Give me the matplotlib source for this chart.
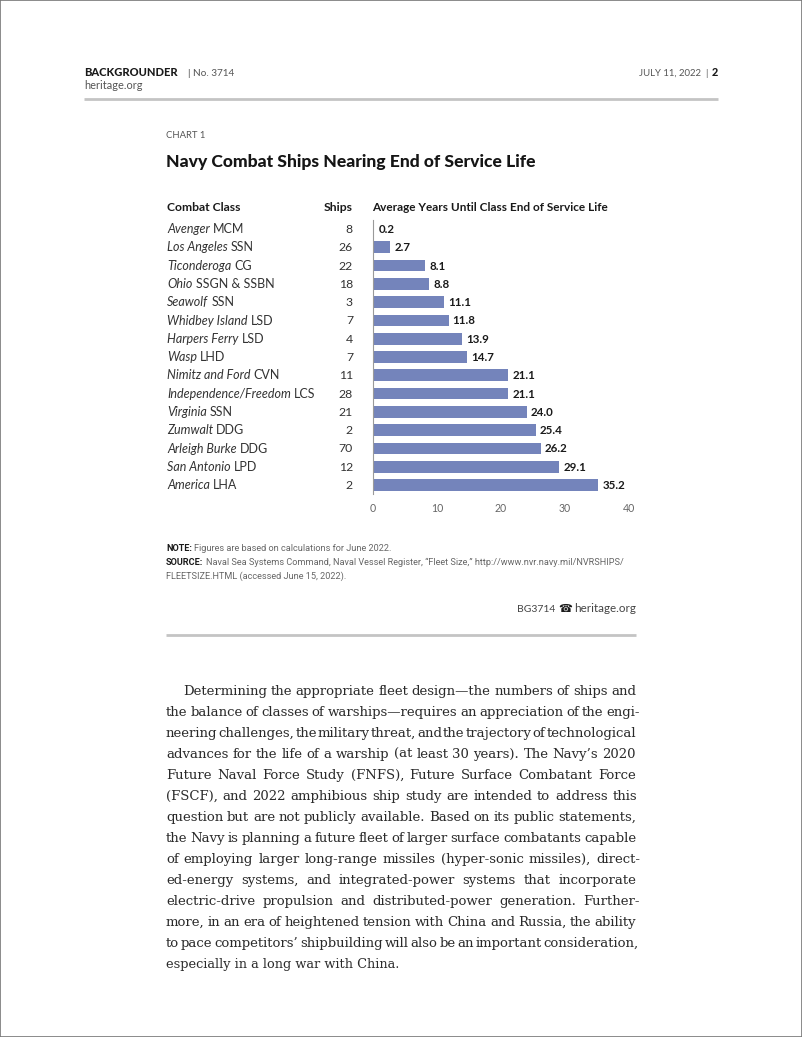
import matplotlib
matplotlib.use("Agg")
import matplotlib.pyplot as plt
from matplotlib.lines import Line2D
from matplotlib.patches import Rectangle

W, H = 802, 1037

class_italic = ["Avenger", "Los Angeles", "Ticonderoga", "Ohio", "Seawolf", "Whidbey Island",
                "Harpers Ferry", "Wasp", "Nimitz and Ford", "Independence/Freedom", "Virginia",
                "Zumwalt", "Arleigh Burke", "San Antonio", "America"]
class_roman = ["MCM", "SSN", "CG", "SSGN & SSBN", "SSN", "LSD", "LSD", "LHD", "CVN", "LCS",
               "SSN", "DDG", "DDG", "LPD", "LHA"]
ships = [8, 26, 22, 18, 3, 7, 4, 7, 11, 28, 21, 2, 70, 12, 2]
years = [0.2, 2.7, 8.1, 8.8, 11.1, 11.8, 13.9, 14.7, 21.1, 21.1, 24.0, 25.4, 26.2, 29.1, 35.2]
x_ticks = [0, 10, 20, 30, 40]

body_lines = [
    ("Determining the appropriate fleet design—the numbers of ships and", 183, 636),
    ("the balance of classes of warships—requires an appreciation of the engi-", 166, 640),
    ("neering challenges, the military threat, and the trajectory of technological", 166, 636),
    ("advances for the life of a warship (at least 30 years). The Navy’s 2020", 166, 636),
    ("Future Naval Force Study (FNFS), Future Surface Combatant Force", 166, 636),
    ("(FSCF), and 2022 amphibious ship study are intended to address this", 166, 637),
    ("question but are not publicly available. Based on its public statements,", 166, 636),
    ("the Navy is planning a future fleet of larger surface combatants capable", 166, 636),
    ("of employing larger long-range missiles (hyper-sonic missiles), direct-", 166, 640),
    ("ed-energy systems, and integrated-power systems that incorporate", 166, 636),
    ("electric-drive propulsion and distributed-power generation. Further-", 166, 640),
    ("more, in an era of heightened tension with China and Russia, the ability", 166, 636),
    ("to pace competitors’ shipbuilding will also be an important consideration,", 166, 639),
    ("especially in a long war with China.", 166, None),
]

SANS = "Lato"
DARK = "#1a1a1a"
GREY = "#555555"
BAR = "#7484bb"

fig = plt.figure(figsize=(W / 100, H / 100), dpi=100, facecolor="white")
renderer = fig.canvas.get_renderer()

def fx(x): return x / W
def fy(y): return 1 - y / H

def put(x, y, s, **kw):
    kw.setdefault("family", SANS)
    kw.setdefault("color", DARK)
    size = kw.get("fontsize", 8)
    # y is the visual mid-height of capitals: sit the text on a fixed baseline
    return fig.text(fx(x), fy(y - 0.7 + 0.36 * size * 100 / 72), s, va="baseline", **kw)

def width(t):
    return t.get_window_extent(renderer).width

def hline(y, x0, x1, lw, color):
    fig.add_artist(Line2D([fx(x0), fx(x1)], [fy(y), fy(y)], lw=lw, color=color,
                          transform=fig.transFigure, solid_capstyle="butt"))

def runs(x, y, parts, size, color=DARK):
    for s, opts in parts:
        t = put(x, y, s, fontsize=size, color=color, **opts)
        x += width(t) + size * 0.36

# page border
fig.add_artist(Rectangle((0, 0), 1, 1, transform=fig.transFigure, fill=False,
                         ec="#777777", lw=1.2))

# running header
put(84, 73, "BACKGROUNDER", fontsize=8.0, fontweight="black")
put(187, 73, "|", fontsize=7.4, color=GREY)
put(193, 73, "No. 3714", fontsize=7.2, color=GREY)
put(84, 86, "heritage.org", fontsize=7.9, color=GREY)
put(708, 73, "JULY 11, 2022  |", fontsize=6.9, color=GREY, ha="right")
put(718, 73, "2", fontsize=7.8, fontweight="black", ha="right")
hline(99, 84, 718, 2.0, "#c4c4c4")

# chart headings
put(166, 135.5, "CHART 1", fontsize=6.8, color=GREY)
put(166, 161.5, "Navy Combat Ships Nearing End of Service Life", fontsize=12.6, fontweight="black",
    color="#151515")
put(167, 207.5, "Combat Class", fontsize=8.7, fontweight="bold")
put(353, 207.5, "Ships", fontsize=8.7, fontweight="bold", ha="right")
put(372, 207.5, "Average Years Until Class End of Service Life", fontsize=8.5, fontweight="bold")

# bar panel
top, bottom, left, right = 219.85, 494.15, 373, 629
ax = fig.add_axes([fx(left), fy(bottom), (right - left) / W, (bottom - top) / H])
rows = list(range(len(years)))
ax.barh(rows, years, height=0.64, color=BAR, zorder=2)
ax.set_xlim(0, 40)
ax.set_ylim(14.5, -0.5)
ax.set_xticks(x_ticks)
ax.set_yticks([])
ax.tick_params(axis="x", length=0, pad=6.5, labelsize=7.6, labelcolor="#666666")
for lab in ax.get_xticklabels():
    lab.set_family(SANS)
for name in ("top", "right", "bottom"):
    ax.spines[name].set_visible(False)
ax.spines["left"].set_color("#9a9a9a")
ax.spines["left"].set_linewidth(0.8)
ax.patch.set_alpha(0)

for i, v in zip(rows, years):
    ax.annotate(f"{v:.1f}", (v, i), xytext=(3, -2.9), textcoords="offset points", va="baseline",
                ha="left", fontsize=8.3, fontweight="bold", family=SANS, color=DARK,
                annotation_clip=False)

for i, (it, ro, n) in enumerate(zip(class_italic, class_roman, ships)):
    y = 229.3 + i * (bottom - top) / 15
    runs(167, y, [(it, {"fontstyle": "italic"}), (ro, {})], 9.0, color="#333333")
    put(353, y, str(n), fontsize=8.8, color="#333333", ha="right")

# notes
NOTE_SIZE = 6.6
def note(y, head, rest):
    x = 166
    if head:
        t = put(x, y, head, fontsize=NOTE_SIZE, fontweight="bold", family="Roboto")
        x += width(t) + 2.5
    put(x, y, rest, fontsize=NOTE_SIZE, color="#666666", family="Roboto")

note(548, "NOTE:", "Figures are based on calculations for June 2022.")
note(562.5, "SOURCE:", "Naval Sea Systems Command, Naval Vessel Register, “Fleet Size,” http://www.nvr.navy.mil/NVRSHIPS/")
note(576.5, "", "FLEETSIZE.HTML (accessed June 15, 2022).")

# source tag
put(555, 609, "BG3714", fontsize=7.5, color="#444444", ha="right")
put(565, 609, "\u260e", fontsize=8, family="DejaVu Sans", ha="center")
put(636, 609, "heritage.org", fontsize=8.4, color="#444444", ha="right")
hline(635, 166, 636, 2.0, "#c4c4c4")

# body copy, justified word by word
BODY_SIZE = 9.55
for i, (line, x0, x1) in enumerate(body_lines):
    y = 691 + i * 21.0
    if x1 is None:
        put(x0, y, line, fontsize=9.25, family="DejaVu Serif", color="#2a2a2a")
        continue
    words = line.split(" ")
    ts = [put(x0, y, w, fontsize=BODY_SIZE, family="DejaVu Serif", color="#2a2a2a") for w in words]
    ws = [width(t) for t in ts]
    gap = (x1 - x0 - sum(ws)) / (len(words) - 1)
    x = x0
    for t, w in zip(ts, ws):
        t.set_x(fx(x))
        x += w + gap

fig.savefig("out.png", dpi=100, facecolor="white")
